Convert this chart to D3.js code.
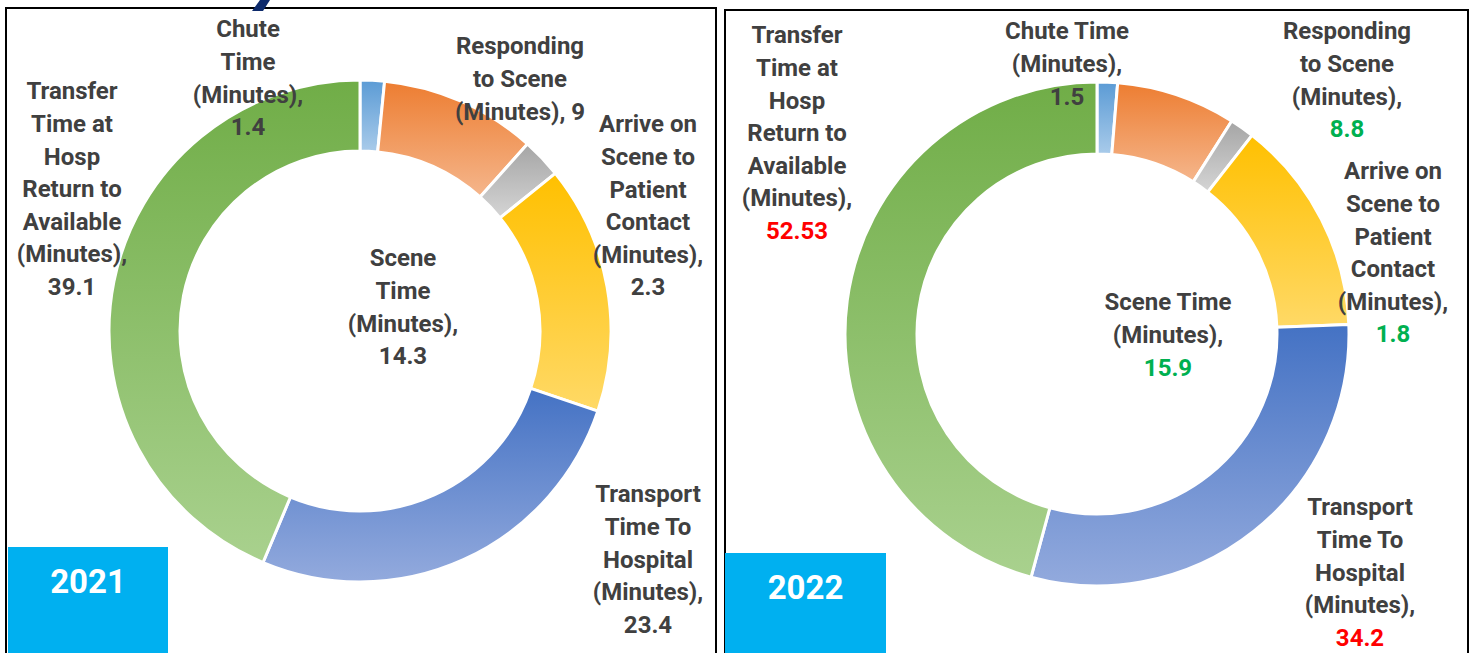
<!DOCTYPE html>
<html>
<head>
<meta charset="utf-8">
<script src="https://cdn.jsdelivr.net/npm/d3@7"></script>
<style>
  body { margin: 0; background: #fff; }
  svg { display: block; }
</style>
</head>
<body>
<div id="chart"></div>
<script>
// categories in drawing order (clockwise from 12 o'clock)
const categories = ["Chute", "Responding", "Arrive", "Scene", "Transport", "Transfer"];
const values2021 = [1.4, 9, 2.3, 14.3, 23.4, 39.1];
const values2022 = [1.5, 8.8, 1.8, 15.9, 34.2, 52.53];

// label text, one entry per line
const labels2021 = [
    ["Chute", "Time", "(Minutes),", "1.4"],
    ["Responding", "to Scene", "(Minutes), 9"],
    ["Arrive on", "Scene to", "Patient", "Contact", "(Minutes),", "2.3"],
    ["Scene", "Time", "(Minutes),", "14.3"],
    ["Transport", "Time To", "Hospital", "(Minutes),", "23.4"],
    ["Transfer", "Time at", "Hosp", "Return to", "Available", "(Minutes),", "39.1"]
];
const labels2022 = [
    ["Chute Time", "(Minutes),", "1.5"],
    ["Responding", "to Scene", "(Minutes),", "8.8"],
    ["Arrive on", "Scene to", "Patient", "Contact", "(Minutes),", "1.8"],
    ["Scene Time", "(Minutes),", "15.9"],
    ["Transport", "Time To", "Hospital", "(Minutes),", "34.2"],
    ["Transfer", "Time at", "Hosp", "Return to", "Available", "(Minutes),", "52.53"]
];
// colour of the value line in 2022 (better = green, worse = red)
const valueTone2022 = ["none", "good", "good", "good", "bad", "bad"];
const years = ["2021", "2022"];

// gradient stops per slice: top, bottom
const sliceColors = {
    Chute: ["#5B9BD5", "#A9CBEA"],
    Responding: ["#ED7D31", "#F5B68C"],
    Arrive: ["#A5A5A5", "#D5D5D5"],
    Scene: ["#FFC000", "#FFD966"],
    Transport: ["#4472C4", "#93AADD"],
    Transfer: ["#70AD47", "#A9D18E"]
};

const W = 1475, H = 653;
const svg = d3.select("#chart").append("svg")
    .attr("width", W).attr("height", H)
    .style("font-family", "'Roboto', 'Liberation Sans', sans-serif");

const defs = svg.append("defs");
categories.forEach(c => {
    const g = defs.append("linearGradient")
        .attr("id", "grad-" + c)
        .attr("x1", 0).attr("y1", 0).attr("x2", 0).attr("y2", 1);
    g.append("stop").attr("offset", "0%").attr("stop-color", sliceColors[c][0]);
    g.append("stop").attr("offset", "100%").attr("stop-color", sliceColors[c][1]);
});

// panel layout
const panels = [
    { year: years[0], values: values2021, labels: labels2021, tones: null,
      box: [6, 8, 710, 660], cx: 360, cy: 331, R: 251, r: 180,
      yearBox: [8, 547, 160, 106],
      labelPos: [[-112, -302], [160, -285], [288, -207], [43, -73], [288, 163], [-288, -240]] },
    { year: years[1], values: values2022, labels: labels2022, tones: valueTone2022,
      box: [725, 10, 743, 660], cx: 1097, cy: 334, R: 252, r: 180,
      yearBox: [725, 553, 161, 106],
      labelPos: [[-30, -303], [250, -303], [296, -163], [71, -32], [263, 173], [-300, -299]] }
];

const lineH = 32.6;
const toneColor = { good: "#00B050", bad: "#FF0000", none: "#404040" };

panels.forEach(p => {
    // frame
    svg.append("rect")
        .attr("x", p.box[0]).attr("y", p.box[1])
        .attr("width", p.box[2]).attr("height", p.box[3])
        .attr("fill", "#fff").attr("stroke", "#000").attr("stroke-width", 2);

    const g = svg.append("g").attr("transform", `translate(${p.cx},${p.cy})`);

    const pie = d3.pie().sort(null).value(d => d.v);
    const arc = d3.arc().innerRadius(p.r).outerRadius(p.R);
    const data = categories.map((c, i) => ({ c: c, v: p.values[i] }));

    g.selectAll("path.slice")
        .data(pie(data))
        .join("path")
        .attr("class", "slice")
        .attr("d", arc)
        .attr("fill", d => `url(#grad-${d.data.c})`)
        .attr("stroke", "#fff")
        .attr("stroke-width", 3)
        .attr("stroke-linejoin", "round");

    // data labels
    p.labels.forEach((lines, i) => {
        const t = g.append("text")
            .attr("text-anchor", "middle")
            .attr("font-weight", "bold")
            .attr("font-size", 24)
            .attr("fill", "#404040");
        lines.forEach((ln, j) => {
            const isValue = j === lines.length - 1 && p.tones;
            t.append("tspan")
                .attr("x", p.labelPos[i][0])
                .attr("y", p.labelPos[i][1] + j * lineH)
                .attr("dy", "0.35em")
                .attr("fill", isValue ? toneColor[p.tones[i]] : null)
                .text(ln);
        });
    });

    // year box
    svg.append("rect")
        .attr("x", p.yearBox[0]).attr("y", p.yearBox[1])
        .attr("width", p.yearBox[2]).attr("height", p.yearBox[3])
        .attr("fill", "#00B0F0");
    svg.append("text")
        .attr("x", p.yearBox[0] + p.yearBox[2] / 2)
        .attr("y", p.yearBox[1] + 34)
        .attr("dy", "0.35em")
        .attr("text-anchor", "middle")
        .attr("font-weight", "bold")
        .attr("font-size", 33)
        .attr("fill", "#fff")
        .text(p.year);
});

// stray stroke of the slide title above the frame
svg.append("path")
    .attr("d", "M260,0 L270,0 L263,11 L252,11 Z")
    .attr("fill", "#0D2A6B");
</script>
</body>
</html>
